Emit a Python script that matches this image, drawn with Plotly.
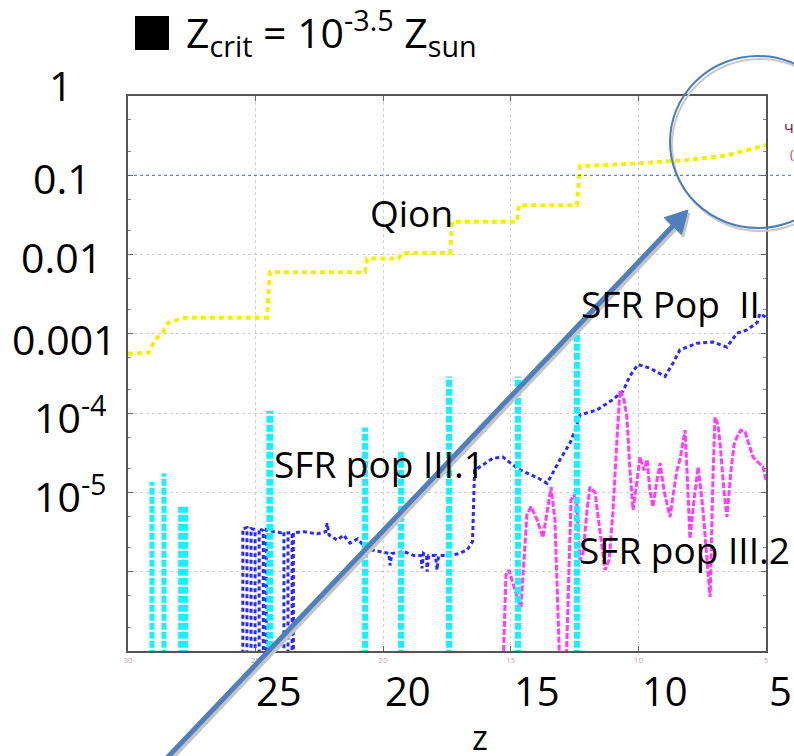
import math
import plotly.graph_objects as go

# ---------------- data ----------------
qion_z = [30.0, 29.2, 28.95, 28.63, 28.43, 27.77, 24.55, 24.44, 20.71, 20.63, 19.40, 19.26,
          17.38, 17.30, 14.76, 14.68, 12.41, 12.29, 9.94, 8.21, 6.53, 5.0]
qion_y = [5.6e-4, 5.8e-4, 8.3e-4, 1.05e-3, 1.38e-3, 1.6e-3, 1.6e-3, 6.0e-3, 6.0e-3, 8.9e-3, 8.9e-3, 1.05e-2,
          1.05e-2, 2.6e-2, 2.6e-2, 4.2e-2, 4.2e-2, 0.13, 0.142, 0.155, 0.178, 0.24]

FLOOR = 5e-8  # below the axis floor: series drops off the bottom

pop2_z = [25.50, 25.50, 25.34, 25.34, 25.18, 25.18, 25.02, 25.02, 24.86, 24.86, 24.70, 24.70,
          24.58, 24.58, 24.3, 24.0, 23.89, 23.89, 23.73, 23.73, 23.57, 23.57, 23.52, 23.52,
          23.1, 22.6, 22.25, 22.2, 22.12, 21.8, 21.55, 21.3, 21.0, 20.75, 20.5, 20.2, 19.9,
          19.78, 19.73, 19.66, 19.2, 18.8, 18.52, 18.48, 18.42, 18.3, 18.28, 18.22, 17.95,
          17.89, 17.83, 17.4, 17.0, 16.7, 16.5, 16.42, 16.21, 15.95, 15.70, 15.31, 14.91,
          14.6, 14.25, 13.9, 13.58, 13.3, 13.07, 12.68, 12.45, 12.29, 11.62, 11.0, 10.6,
          10.33, 10.02, 9.55, 8.96, 8.64, 8.37, 7.70, 7.08, 6.53, 6.14, 5.75, 5.35, 5.24, 5.0]
pop2_y = [FLOOR, 3.5e-6, 3.6e-6, FLOOR, FLOOR, 3.5e-6, 3.4e-6, FLOOR, FLOOR, 3.5e-6, 3.3e-6, FLOOR,
          FLOOR, 3.4e-6, 3.2e-6, 3.1e-6, 3.2e-6, FLOOR, FLOOR, 3.1e-6, 3.1e-6, FLOOR, FLOOR, 3.1e-6,
          3.2e-6, 3.0e-6, 3.2e-6, 4.1e-6, 2.9e-6, 2.5e-6, 2.9e-6, 2.3e-6, 2.6e-6, 2.1e-6, 1.9e-6, 1.8e-6, 1.7e-6,
          1.7e-6, 1.2e-6, 1.7e-6, 1.8e-6, 1.6e-6, 1.6e-6, 1.1e-6, 1.7e-6, 1.6e-6, 1.0e-6, 1.6e-6, 1.6e-6,
          1.05e-6, 1.6e-6, 1.6e-6, 1.7e-6, 1.9e-6, 2.4e-6, 1.9e-5, 2.1e-5, 2.4e-5, 2.7e-5, 2.8e-5, 2.2e-5,
          1.9e-5, 1.7e-5, 1.5e-5, 1.3e-5, 1.9e-5, 2.6e-5, 4.2e-5, 6.5e-5, 9.5e-5, 1.1e-4, 1.48e-4, 1.9e-4,
          2.95e-4, 4.1e-4, 3.7e-4, 2.9e-4, 4.3e-4, 6.3e-4, 7.6e-4, 7.9e-4, 6.8e-4, 1.02e-3, 1.12e-3, 1.38e-3, 1.8e-3, 1.62e-3]

pop31_z = [29.06, 28.59, 27.84, 24.44, 20.71, 19.30, 17.42, 14.72, 12.41]
pop31_top = [1.35e-5, 1.75e-5, 6.6e-6, 1.07e-4, 6.6e-5, 3.4e-5, 2.9e-4, 2.9e-4, 1.12e-3]

pop32_z = [15.31, 15.19, 15.07, 14.91, 14.72, 14.60, 14.48, 14.37, 14.21, 13.97,
           13.74, 13.58, 13.42, 13.27, 13.15, 13.07, 12.84, 12.76, 12.64, 12.52,
           12.41, 12.29, 12.17, 12.01, 11.90, 11.70, 11.50, 11.31, 11.15, 11.00,
           10.84, 10.72, 10.56, 10.45, 10.33, 10.21, 10.05, 9.94, 9.78, 9.66,
           9.55, 9.43, 9.27, 9.15, 9.00, 8.88, 8.76, 8.61, 8.49, 8.37,
           8.25, 8.17, 8.06, 7.98, 7.82, 7.66, 7.55, 7.47, 7.31, 7.19,
           7.08, 7.00, 6.88, 6.80, 6.65, 6.53, 6.37, 6.25, 6.14, 5.98,
           5.82, 5.67, 5.51, 5.31, 5.12, 5.00]
pop32_y = [FLOOR, 9.1e-7, 1.05e-6, 6.8e-7, 4.4e-7, 3.6e-7, 1.4e-6, 5.2e-6, 6.6e-6, 4.5e-6,
           2.7e-6, 6.0e-6, 1.17e-5, 4.5e-6, 2.5e-7, FLOOR, FLOOR, 4.4e-7, 8.0e-6, 9.3e-6,
           6.9e-6, 1.4e-6, 1.7e-6, 6.0e-6, 1.17e-5, 1.0e-5, 3.4e-6, 1.05e-6, 1.4e-6, 5.5e-6,
           4.6e-5, 1.95e-4, 1.46e-4, 8.9e-5, 1.9e-5, 6.0e-6, 1.43e-5, 2.8e-5, 1.9e-5, 2.6e-5,
           1.07e-5, 6.6e-6, 1.43e-5, 2.35e-5, 1.07e-5, 6.9e-6, 4.9e-6, 1.07e-5, 1.9e-5, 2.6e-5,
           4.6e-5, 6.1e-5, 1.07e-5, 2.6e-6, 8.0e-6, 2.1e-5, 1.07e-5, 6.0e-6, 1.4e-6, 4.8e-7,
           1.43e-5, 8.9e-5, 7.1e-5, 4.2e-5, 1.07e-5, 4.9e-6, 1.9e-5, 4.0e-5, 5.0e-5, 6.1e-5,
           5.8e-5, 4.0e-5, 2.8e-5, 2.4e-5, 2.1e-5, 1.43e-5]

x_tick_vals = [30, 25, 20, 15, 10, 5]
x_big_vals = [25, 20, 15, 10, 5]
x_big_text = ["25", "20", "15", "10", "5"]
y_big_vals = [1, 0.1, 0.01, 0.001, 1e-4, 1e-5]
y_big_text = ["1", "0.1", "0.01", "0.001", "10<sup>-4</sup>", "10<sup>-5</sup>"]
ref_level = 0.1

# ---------------- layout geometry / style ----------------
W, H = 794, 756
L, R, T, B = 128, 766, 96, 651
PW, PH = R - L, B - T


def px(x):
    return (x - L) / PW


def py(y):
    return (B - y) / PH


FONT = "Open Sans"
YELLOW, BLUE, CYAN, MAGENTA = "#f2f200", "#2a2aff", "#19f0ff", "#ff3cff"

fig = go.Figure()

fig.add_trace(go.Scatter(x=pop2_z, y=pop2_y, mode="lines",
                         line=dict(color=BLUE, width=3, dash="4px,3px")))
fig.add_trace(go.Scatter(x=pop32_z, y=pop32_y, mode="lines",
                         line=dict(color=MAGENTA, width=3, dash="6px,2px")))
spike_w = [5, 5, 10, 7, 6, 6, 6, 6, 6]
for z, top, w in zip(pop31_z, pop31_top, spike_w):
    fig.add_trace(go.Scatter(x=[z, z], y=[FLOOR, top], mode="lines",
                             line=dict(color=CYAN, width=w, dash="7px,2px")))
fig.add_trace(go.Scatter(x=qion_z, y=qion_y, mode="lines",
                         line=dict(color=YELLOW, width=4, dash="5px,4px")))

ann = []
# big y labels
y_lab_x = [60, 61.5, 61.5, 64.5, 70, 70]
y_lab_shift = [11, -3, -2, -5, -2, -2]
for v, t, xc, s in zip(y_big_vals, y_big_text, y_lab_x, y_lab_shift):
    ann.append(dict(x=px(xc), xref="paper", y=math.log10(v), yref="y", yshift=s,
                    text=t, showarrow=False, xanchor="center", yanchor="middle",
                    font=dict(family=FONT, size=41, color="black")))
# big x labels
x_lab_shift = [23.5, 25, 26, 26.6, 14.5]
for v, t, s in zip(x_big_vals, x_big_text, x_lab_shift):
    ann.append(dict(x=v, xref="x", y=0, yref="paper", xshift=s, yshift=-(690 - B),
                    text=t, showarrow=False, xanchor="center", yanchor="middle", height=38,
                    font=dict(family=FONT, size=40, color="black")))
ann.append(dict(x=px(480), xref="paper", y=py(737), yref="paper", text="z", showarrow=False,
                xanchor="center", yanchor="middle", height=30,
                font=dict(family=FONT, size=34, color="black")))
# title
ann.append(dict(x=px(184), xref="paper", y=py(32), yref="paper", xanchor="left", yanchor="middle",
                text="Z<sub>crit</sub> = 10<sup>-3.5</sup> Z<sub>sun</sub>", showarrow=False,
                font=dict(family=FONT, size=41, color="black")))
# series labels
lab_font = dict(family=FONT, size=37, color="black")
ann.append(dict(x=px(411), xref="paper", y=py(213), yref="paper", text="Qion", showarrow=False,
                xanchor="center", yanchor="middle", font=lab_font))
ann.append(dict(x=px(670), xref="paper", y=py(303), yref="paper", text="SFR Pop\u00a0 II", showarrow=False,
                xanchor="center", yanchor="middle", font=lab_font))
ann.append(dict(x=px(379), xref="paper", y=py(463), yref="paper", text="SFR pop III.1", showarrow=False,
                xanchor="center", yanchor="middle", font=lab_font))
ann.append(dict(x=px(577), xref="paper", y=py(549), yref="paper", text="SFR pop III.2", showarrow=False,
                xanchor="left", yanchor="middle", font=lab_font))
# clipped legend remnants at the right edge
ann.append(dict(x=px(789), xref="paper", y=py(127), yref="paper", text="ч", showarrow=False,
                xanchor="center", yanchor="middle",
                font=dict(family=FONT, size=16, color="#7a1f45")))
ann.append(dict(x=px(792), xref="paper", y=py(154), yref="paper", text="(", showarrow=False,
                xanchor="center", yanchor="middle",
                font=dict(family=FONT, size=12, color="#c03050")))

# arrow geometry (pixels): tail off the bottom edge, tip inside the circle
tail, tip = (165, 760), (688, 210)
dx, dy = tip[0] - tail[0], tip[1] - tail[1]
ln = math.hypot(dx, dy)
ux, uy = dx / ln, dy / ln
nx, ny = -uy, ux
head_len, head_half = 22, 12
bx, by = tip[0] - head_len * ux, tip[1] - head_len * uy


def arrow_shapes(ox, oy, col):
    p1 = (bx + head_half * nx + ox, by + head_half * ny + oy)
    p2 = (bx - head_half * nx + ox, by - head_half * ny + oy)
    pt = (tip[0] + ox, tip[1] + oy)
    path = "M {},{} L {},{} L {},{} Z".format(px(pt[0]), py(pt[1]), px(p1[0]), py(p1[1]),
                                               px(p2[0]), py(p2[1]))
    return [
        dict(type="line", xref="paper", yref="paper", x0=px(tail[0] + ox), y0=py(tail[1] + oy),
             x1=px(bx + 2 * ux + ox), y1=py(by + 2 * uy + oy), line=dict(color=col, width=5), layer="above"),
        dict(type="path", xref="paper", yref="paper", path=path, fillcolor=col,
             line=dict(color=col, width=1), layer="above"),
    ]


shapes = [
    # hide lower half of the faint original tick labels
    dict(type="rect", xref="paper", yref="paper", x0=-0.3, x1=1.1, y0=py(720), y1=py(664),
         fillcolor="white", line=dict(width=0), layer="above"),
    # reference level line at 0.1 extending past the frame
    dict(type="line", xref="paper", x0=0, x1=px(W + 2), yref="y", y0=ref_level, y1=ref_level,
         line=dict(color="#3a6cc8", width=1, dash="dot"), layer="above"),
    # circle shadow + circle
    dict(type="circle", xref="paper", yref="paper", x0=px(670 + 2), x1=px(846 + 2),
         y0=py(228 + 3), y1=py(56 + 3), line=dict(color="#c8c8c8", width=2), layer="above"),
    dict(type="circle", xref="paper", yref="paper", x0=px(670), x1=px(846),
         y0=py(228), y1=py(56), line=dict(color="#4a7ebb", width=2), layer="above"),
    # black square of the title
    dict(type="rect", xref="paper", yref="paper", x0=px(135), x1=px(169), y0=py(50), y1=py(16),
         fillcolor="black", line=dict(width=0), layer="above"),
]
shapes += arrow_shapes(2, 3, "#c4c4c4")
shapes += arrow_shapes(0, 0, "#4f7fbc")

fig.update_layout(
    width=W, height=H,
    margin=dict(l=L, r=W - R, t=T, b=H - B),
    paper_bgcolor="white", plot_bgcolor="white",
    showlegend=False,
    font=dict(family=FONT),
    annotations=ann, shapes=shapes,
    xaxis=dict(range=[30, 5], tickvals=x_tick_vals, ticktext=[str(v) for v in x_tick_vals],
               showline=True, linecolor="#555555", linewidth=2, mirror="allticks",
               ticks="inside", ticklen=5, tickcolor="#666666",
               showgrid=True, gridcolor="#d0d0d0", griddash="3px,3px", gridwidth=1,
               zeroline=False, tickfont=dict(size=8, color="#c9a2a2")),
    yaxis=dict(type="log", range=[-7, 0], tickvals=[1e-7, 1e-6, 1e-5, 1e-4, 1e-3, 1e-2, 1e-1, 1],
               showticklabels=False, showline=True, linecolor="#555555", linewidth=2,
               mirror="allticks", ticks="inside", ticklen=5, tickcolor="#666666",
               showgrid=True, gridcolor="#d0d0d0", griddash="3px,3px", gridwidth=1, zeroline=False,
               minor=dict(ticks="inside", ticklen=3, dtick="D2", tickcolor="#888888", showgrid=False)),
)

fig.write_html("out.html")
